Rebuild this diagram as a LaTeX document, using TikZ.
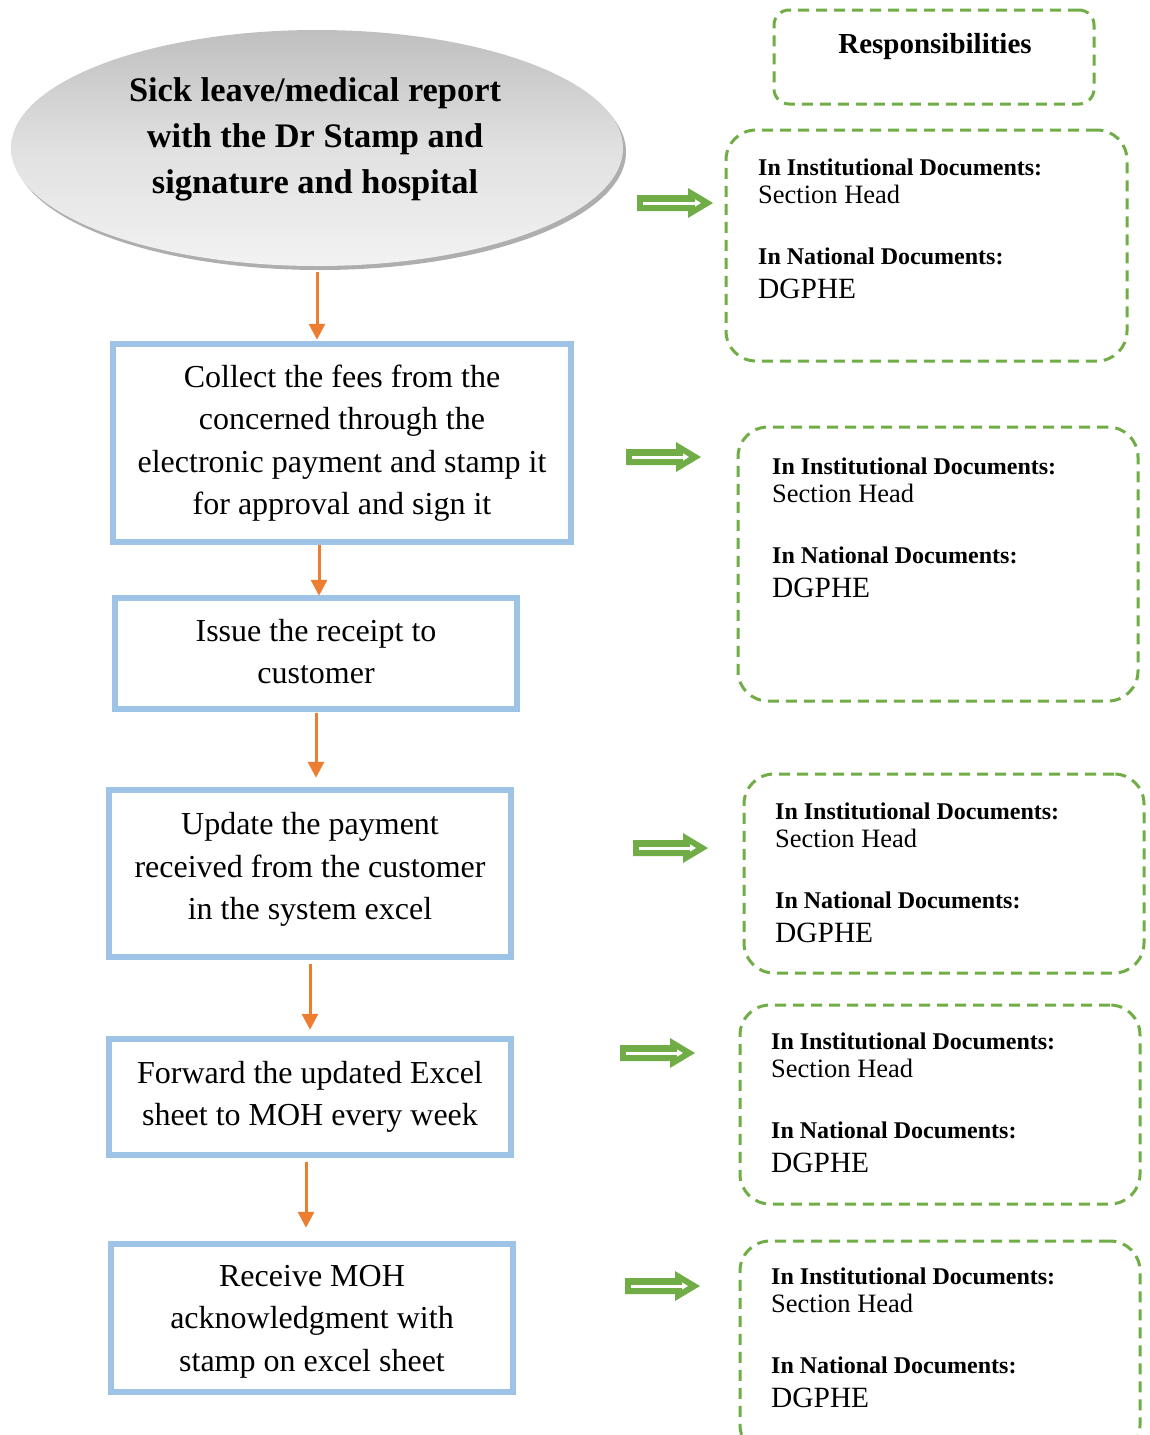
\documentclass[tikz,border=0pt]{standalone}
\usepackage{fontspec}
\setmainfont{Liberation Serif}
\usetikzlibrary{shapes.geometric,arrows.meta,shadows,calc}
\definecolor{boxblue}{HTML}{9DC3E6}
\definecolor{arrorange}{HTML}{ED7D31}
\definecolor{leafgreen}{HTML}{70AD47}
\tikzset{
 stepbox/.style={draw=boxblue, line width=6.5pt, fill=white, align=center, inner sep=0pt, font=\fontsize{32pt}{42.5pt}\selectfont},
 flowarrow/.style={draw=arrorange, line width=3pt, -{Triangle[width=16pt,length=16pt]}},
 dbox/.style={draw=leafgreen, line width=3pt, dash pattern=on 11pt off 7pt, rounded corners=30pt, inner sep=0pt},
 insthead/.style={font=\bfseries\fontsize{24pt}{28pt}\selectfont, anchor=base west, inner sep=0pt},
 instbody/.style={font=\fontsize{26.5pt}{30pt}\selectfont, anchor=base west, inner sep=0pt},
 natbody/.style={font=\fontsize{29.4pt}{33pt}\selectfont, anchor=base west, inner sep=0pt},
}
\newcommand\greenarrow[2]{%
 \fill[leafgreen] ($(#1)+(0,-8)$) -- ($(#2)+(-25,-8)$) -- ($(#2)+(-25,-15)$) -- (#2) -- ($(#2)+(-25,15)$) -- ($(#2)+(-25,8)$) -- ($(#1)+(0,8)$) -- cycle;
 \draw[white, line width=3pt, -{Triangle[width=7pt,length=6pt]}] ($(#1)+(6,0)$) -- ($(#2)+(-12,0)$);
}
\newcommand\respblock[3]{%
 \node[insthead] (#1a) at (#2,#3) {In Institutional Documents:};
 \node[instbody] (#1b) at (#2,#3+28) {Section Head};
 \node[insthead] (#1c) at (#2,#3+89) {In National Documents:};
 \node[natbody] (#1d) at (#2,#3+123) {DGPHE};
}
\begin{document}
\begin{tikzpicture}[x=1pt,y=-1pt]
\useasboundingbox (0,0) rectangle (1150,1435);
\clip (0,0) rectangle (1150,1435);

% ellipse
\node[ellipse, minimum width=612pt, minimum height=236pt, top color=black!25, bottom color=black!5, middle color=black!12,
      drop shadow={shadow xshift=3pt, shadow yshift=-4pt, fill=black!45, opacity=0.7}] (ell) at (317,148) {};
\node[font=\bfseries\fontsize{34.4pt}{46pt}\selectfont, align=center, inner sep=0pt] (ellt) at (315,139)
  {Sick leave/medical report\\with the Dr Stamp and\\signature and hospital};

% step boxes
\node[stepbox, minimum width=458pt, minimum height=198pt] (b1) at (342,443)
  {Collect the fees from the\\concerned through the\\electronic payment and stamp it\\for approval and sign it};
\node[stepbox, minimum width=402pt, minimum height=111pt, text depth=4pt] (b2) at (316,653.5)
  {Issue the receipt to\\customer};
\node[stepbox, minimum width=402pt, minimum height=167pt, text depth=15pt] (b3) at (310,873.5)
  {Update the payment\\received from the customer\\in the system excel};
\node[stepbox, minimum width=402pt, minimum height=116pt] (b4) at (310,1097)
  {Forward the updated Excel\\sheet to MOH every week};
\node[stepbox, minimum width=402pt, minimum height=148pt, text depth=0pt] (b5) at (312,1318)
  {Receive MOH\\acknowledgment with\\stamp on excel sheet};

% orange arrows
\coordinate (a1e) at (ell.south |- b1.north);
\draw[flowarrow, shorten <=6pt, shorten >=1pt] (ell.south) -- (a1e);
\coordinate (a2s) at ($(b1.south)+(-23,0)$);
\coordinate (a2e) at (a2s |- b2.north);
\draw[flowarrow, shorten >=-1pt] (a2s) -- (a2e);
\coordinate (a3e) at (b2.south |- b3.north);
\draw[flowarrow, shorten <=1pt, shorten >=9pt] (b2.south) -- (a3e);
\coordinate (a4e) at (b3.south |- b4.north);
\draw[flowarrow, shorten <=4pt, shorten >=6pt] (b3.south) -- (a4e);
\coordinate (a5s) at ($(b4.south)+(-4,0)$);
\coordinate (a5e) at (a5s |- b5.north);
\draw[flowarrow, shorten <=4pt, shorten >=13pt] (a5s) -- (a5e);

% responsibilities
\node[dbox, rounded corners=15pt, minimum width=320pt, minimum height=94pt] (resp) at (934,57) {};
\node[font=\bfseries\fontsize{29pt}{33pt}\selectfont, inner sep=0pt] (respt) at (935,47) {Responsibilities};

\node[dbox, minimum width=401pt, minimum height=231pt] (d1) at (926.5,245.5) {};
\node[dbox, minimum width=400pt, minimum height=274pt] (d2) at (938,564) {};
\node[dbox, minimum width=400pt, minimum height=199pt] (d3) at (944,873.5) {};
\node[dbox, minimum width=400pt, minimum height=199pt] (d4) at (940,1104.5) {};
\node[dbox, minimum width=400pt, minimum height=214pt] (d5) at (940,1348) {};

\respblock{r1}{758}{175}
\respblock{r2}{772}{474}
\respblock{r3}{775}{819}
\respblock{r4}{771}{1049}
\respblock{r5}{771}{1284}

% green arrows
\coordinate (g1s) at (637,203); \coordinate (g1e) at (713,203);
\coordinate (g2s) at (626,457); \coordinate (g2e) at (701,457);
\coordinate (g3s) at (633,848); \coordinate (g3e) at (708,848);
\coordinate (g4s) at (620,1053); \coordinate (g4e) at (695,1053);
\coordinate (g5s) at (625,1286); \coordinate (g5e) at (700,1286);
\greenarrow{g1s}{g1e}
\greenarrow{g2s}{g2e}
\greenarrow{g3s}{g3e}
\greenarrow{g4s}{g4e}
\greenarrow{g5s}{g5e}
\end{tikzpicture}
\end{document}
